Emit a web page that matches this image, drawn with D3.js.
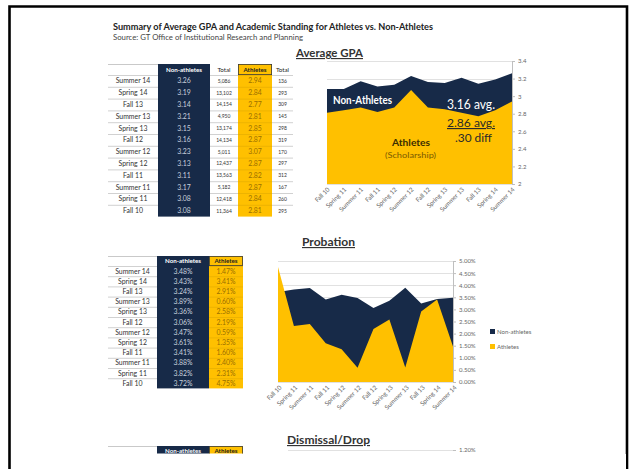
<!DOCTYPE html>
<html><head><meta charset="utf-8">
<script src="https://cdn.jsdelivr.net/npm/d3@7"></script>
<style>
html,body{margin:0;padding:0;background:#fff;}
svg{display:block;font-family:Lato,"Open Sans",sans-serif;}
</style></head><body>
<svg id="c" width="636" height="469"></svg>
<script>
// ---------- DATA ----------
const terms = ["Fall 10","Spring 11","Summer 11","Fall 11","Spring 12","Summer 12","Fall 12","Spring 13","Summer 13","Fall 13","Spring 14","Summer 14"];
const gpaNon = [3.08,3.08,3.17,3.11,3.13,3.23,3.16,3.15,3.21,3.14,3.19,3.26];
const gpaAth = [2.81,2.84,2.87,2.82,2.87,3.07,2.87,2.85,2.81,2.77,2.84,2.94];
const totalNon = ["11,364","12,418","5,182","13,563","12,437","5,011","14,134","13,174","4,950","14,154","13,102","5,086"];
const totalAth = ["295","260","167","312","297","170","319","298","145","309","293","136"];
const probNon = [3.72,3.82,3.88,3.41,3.61,3.47,3.06,3.36,3.89,3.24,3.43,3.48];
const probAth = [4.75,2.31,2.40,1.60,1.35,0.59,2.19,2.58,0.60,2.91,3.41,1.47];
const gpaTicks = [2,2.2,2.4,2.6,2.8,3,3.2,3.4];
const gpaTickLabels = ["2","2.2","2.4","2.6","2.8","3","3.2","3.4"];
const probTicks = [0,0.5,1,1.5,2,2.5,3,3.5,4,4.5,5];
const probTickLabels = ["0.00%","0.50%","1.00%","1.50%","2.00%","2.50%","3.00%","3.50%","4.00%","4.50%","5.00%"];
const legendLabels = ["Non-athletes","Athletes"];

// ---------- STYLE ----------
const NAVY = "#172a48", GOLD = "#ffc000", GOLDTXT = "#9a6f00", NAVYTXT = "#c9d1de";
const svg = d3.select("#c");
svg.append("rect").attr("width",636).attr("height",469).attr("fill","#fff");

// frame
svg.append("path").attr("d","M9.5,469 V6.5 H627 V469").attr("fill","none").attr("stroke","#000").attr("stroke-width",2.6);

// titles
svg.append("text").attr("x",113).attr("y",30).attr("font-size",8.6).attr("font-weight","bold").attr("fill","#222")
  .attr("textLength",320).attr("lengthAdjust","spacingAndGlyphs")
  .text("Summary of Average GPA and Academic Standing for Athletes vs. Non-Athletes");
svg.append("text").attr("x",113).attr("y",39.5).attr("font-size",6.6).attr("fill","#444")
  .attr("textLength",190).attr("lengthAdjust","spacingAndGlyphs")
  .text("Source: GT Office of Institutional Research and Planning");

function sectionTitle(txt,x,y,w){
  svg.append("text").attr("x",x).attr("y",y).attr("font-size",11.5).attr("font-weight","bold")
    .attr("fill","#333").attr("textLength",w).attr("lengthAdjust","spacingAndGlyphs")
    .attr("text-decoration","underline").text(txt);
}
sectionTitle("Average GPA",296,57,67);
sectionTitle("Probation",302,246,53);
sectionTitle("Dismissal/Drop",287,444,83);

// ---------- TABLE helper ----------
function drawTable(cols, headers, rows, y0, hh, rh, clipBottom){
  const g = svg.append("g");
  if(clipBottom){
    const id="clip"+Math.round(y0);
    svg.append("clipPath").attr("id",id).append("rect").attr("x",0).attr("y",0).attr("width",636).attr("height",clipBottom);
    g.attr("clip-path",`url(#${id})`);
  }
  const yEnd = y0 + hh + rh*rows.length;
  cols.forEach((c,ci)=>{
    if(c.type==="navy") g.append("rect").attr("x",c.x0).attr("y",y0).attr("width",c.x1-c.x0).attr("height",yEnd-y0).attr("fill",NAVY);
    if(c.type==="gold") g.append("rect").attr("x",c.x0).attr("y",y0).attr("width",c.x1-c.x0).attr("height",yEnd-y0).attr("fill",GOLD);
  });
  g.append("line").attr("x1",cols[0].x0).attr("x2",cols[0].x1).attr("y1",y0+0.5).attr("y2",y0+0.5).attr("stroke","#bbb").attr("stroke-width",0.8);
  cols.forEach((c,ci)=>{
    if(!headers[ci]) return;
    const col = c.type==="navy" ? "#fff" : "#222";
    g.append("text").attr("x",(c.x0+c.x1)/2).attr("y",y0+hh/2+2.2).attr("text-anchor","middle")
      .attr("font-size",6.2).attr("font-weight",c.type?"bold":"normal").attr("fill",col).text(headers[ci]);
    if(c.type==="gold") g.append("rect").attr("x",c.x0+0.4).attr("y",y0+0.4).attr("width",c.x1-c.x0-0.8).attr("height",hh-0.8).attr("fill","none").attr("stroke","#3a3a3a").attr("stroke-width",0.8);
  });
  rows.forEach((r,ri)=>{
    const yt = y0+hh+ri*rh;
    cols.forEach((c,ci)=>{
      if(c.type!=="navy"){
        g.append("line").attr("x1",c.x0).attr("x2",c.x1).attr("y1",yt+0.5).attr("y2",yt+0.5)
          .attr("stroke",c.type==="gold"?"#e5ad00":"#bdbdbd").attr("stroke-width",0.7);
      }
      const col = c.type==="navy"?NAVYTXT : c.type==="gold"?GOLDTXT : "#333";
      const fs = c.small ? 5 : 6.9;
      g.append("text").attr("x",(c.x0+c.x1)/2).attr("y",yt+rh/2+(c.small?1.8:2.4)).attr("text-anchor","middle")
        .attr("font-size",fs).attr("fill",col).text(r[ci]);
    });
  });
  return g;
}

const rev = a => a.slice().reverse();
const gpaRows = rev(terms).map((t,i)=>[t, rev(gpaNon)[i].toFixed(2), rev(totalNon)[i], rev(gpaAth)[i].toFixed(2), rev(totalAth)[i]]);
drawTable([
  {x0:108,x1:158},{x0:158,x1:210,type:"navy"},{x0:210,x1:238,small:true},{x0:238,x1:272,type:"gold"},{x0:272,x1:293,small:true}
],["","Non-athletes","Total","Athletes","Total"], gpaRows, 64, 11, 11.8);

const probRows = rev(terms).map((t,i)=>[t, rev(probNon)[i].toFixed(2)+"%", rev(probAth)[i].toFixed(2)+"%"]);
drawTable([
  {x0:108,x1:157},{x0:157,x1:209,type:"navy"},{x0:209,x1:243,type:"gold"}
],["","Non-athletes","Athletes"], probRows, 256, 10, 10.2);

drawTable([
  {x0:108,x1:157},{x0:157,x1:209,type:"navy"},{x0:209,x1:243,type:"gold"}
],["","Non-athletes","Athletes"], [], 446, 10, 10, 453.5);

// ---------- GPA chart ----------
const xG = d3.scalePoint().domain(terms).range([327,512]);
const yG = d3.scaleLinear().domain([2,3.4]).range([184,61]);
const gG = svg.append("g");
gG.selectAll(".grid").data(gpaTicks).join("line").attr("x1",327).attr("x2",512)
  .attr("y1",d=>Math.round(yG(d))+0.5).attr("y2",d=>Math.round(yG(d))+0.5).attr("stroke","#d9d9d9").attr("stroke-width",0.8);
const areaG = vals => d3.area().x((d,i)=>xG(terms[i])).y0(yG(2)).y1(d=>yG(d))(vals);
gG.append("path").attr("d",areaG(gpaNon)).attr("fill",NAVY);
gG.append("path").attr("d",areaG(gpaAth)).attr("fill",GOLD);
const axG = gG.append("g").attr("transform","translate(512,0)")
  .call(d3.axisRight(yG).tickValues(gpaTicks).tickSize(3).tickFormat((d,i)=>gpaTickLabels[i]));
axG.select(".domain").attr("stroke","#bfbfbf");
axG.selectAll(".tick line").attr("stroke","#bfbfbf");
axG.selectAll(".tick text").attr("font-size",6).attr("fill","#666").attr("font-family","Lato,sans-serif").attr("x",6);
gG.selectAll(".xl").data(terms).join("text")
  .attr("transform",d=>`translate(${xG(d)+3},${190}) rotate(-45)`)
  .attr("text-anchor","end").attr("font-size",6.2).attr("fill","#666").text(d=>d);
gG.append("text").attr("x",333).attr("y",104).attr("font-size",10.5).attr("font-weight","bold").attr("fill","#fff")
  .attr("textLength",59).attr("lengthAdjust","spacingAndGlyphs").text("Non-Athletes");
gG.append("text").attr("x",447).attr("y",109).attr("font-size",13).attr("fill","#fff")
  .attr("textLength",48).attr("lengthAdjust","spacingAndGlyphs").text("3.16 avg.");
gG.append("text").attr("x",447).attr("y",127).attr("font-size",11.5).attr("fill","#2a2a2a").attr("text-decoration","underline")
  .attr("textLength",48).attr("lengthAdjust","spacingAndGlyphs").text("2.86 avg.");
gG.append("text").attr("x",455).attr("y",142).attr("font-size",11).attr("fill","#2a2a2a")
  .attr("textLength",37).attr("lengthAdjust","spacingAndGlyphs").text(".30 diff");
gG.append("text").attr("x",392).attr("y",146).attr("font-size",10).attr("font-weight","bold").attr("fill","#3a2e00")
  .attr("textLength",38).attr("lengthAdjust","spacingAndGlyphs").text("Athletes");
gG.append("text").attr("x",385).attr("y",158).attr("font-size",7.5).attr("fill","#7a5a00")
  .attr("textLength",51).attr("lengthAdjust","spacingAndGlyphs").text("(Scholarship)");

// ---------- Probation chart ----------
const xP = d3.scalePoint().domain(terms).range([278,453]);
const yP = d3.scaleLinear().domain([0,5]).range([382,261]);
const gP = svg.append("g");
gP.selectAll(".grid").data(probTicks).join("line").attr("x1",278).attr("x2",453)
  .attr("y1",d=>Math.round(yP(d))+0.5).attr("y2",d=>Math.round(yP(d))+0.5).attr("stroke","#d9d9d9").attr("stroke-width",0.8);
const areaP = vals => d3.area().x((d,i)=>xP(terms[i])).y0(yP(0)).y1(d=>yP(d))(vals);
gP.append("path").attr("d",areaP(probNon)).attr("fill",NAVY);
gP.append("path").attr("d",areaP(probAth)).attr("fill",GOLD);
const axP = gP.append("g").attr("transform","translate(453,0)")
  .call(d3.axisRight(yP).tickValues(probTicks).tickSize(3).tickFormat((d,i)=>probTickLabels[i]));
axP.select(".domain").attr("stroke","#bfbfbf");
axP.selectAll(".tick line").attr("stroke","#bfbfbf");
axP.selectAll(".tick text").attr("font-size",6).attr("fill","#666").attr("font-family","Lato,sans-serif").attr("x",6);
gP.selectAll(".xl").data(terms).join("text")
  .attr("transform",d=>`translate(${xP(d)+4},${388}) rotate(-45)`)
  .attr("text-anchor","end").attr("font-size",6.2).attr("fill","#666").text(d=>d);
const lg = gP.append("g").attr("transform","translate(490,329)");
legendLabels.forEach((l,i)=>{
  lg.append("rect").attr("x",0).attr("y",i*15).attr("width",5).attr("height",5).attr("fill",i===0?NAVY:GOLD);
  lg.append("text").attr("x",7).attr("y",i*15+5).attr("font-size",6).attr("fill","#666").text(l);
});

// ---------- Dismissal chart (top edge only) ----------
const yD = d3.scaleLinear().domain([0,1.2]).range([560,450]);
const gD = svg.append("g");
gD.append("line").attr("x1",288).attr("x2",453).attr("y1",yD(1.2)+0.5).attr("y2",yD(1.2)+0.5).attr("stroke","#d9d9d9").attr("stroke-width",0.8);
const axD = gD.append("g").attr("transform","translate(453,0)")
  .call(d3.axisRight(yD).tickValues([1.2]).tickSize(3).tickFormat(()=> "1.20%"));
axD.select(".domain").remove();
axD.selectAll(".tick line").attr("stroke","#bfbfbf");
axD.selectAll(".tick text").attr("font-size",6).attr("fill","#666").attr("font-family","Lato,sans-serif").attr("x",6);
svg.append("rect").attr("x",11).attr("y",454).attr("width",615).attr("height",15).attr("fill","#fff");
</script>
</body></html>
